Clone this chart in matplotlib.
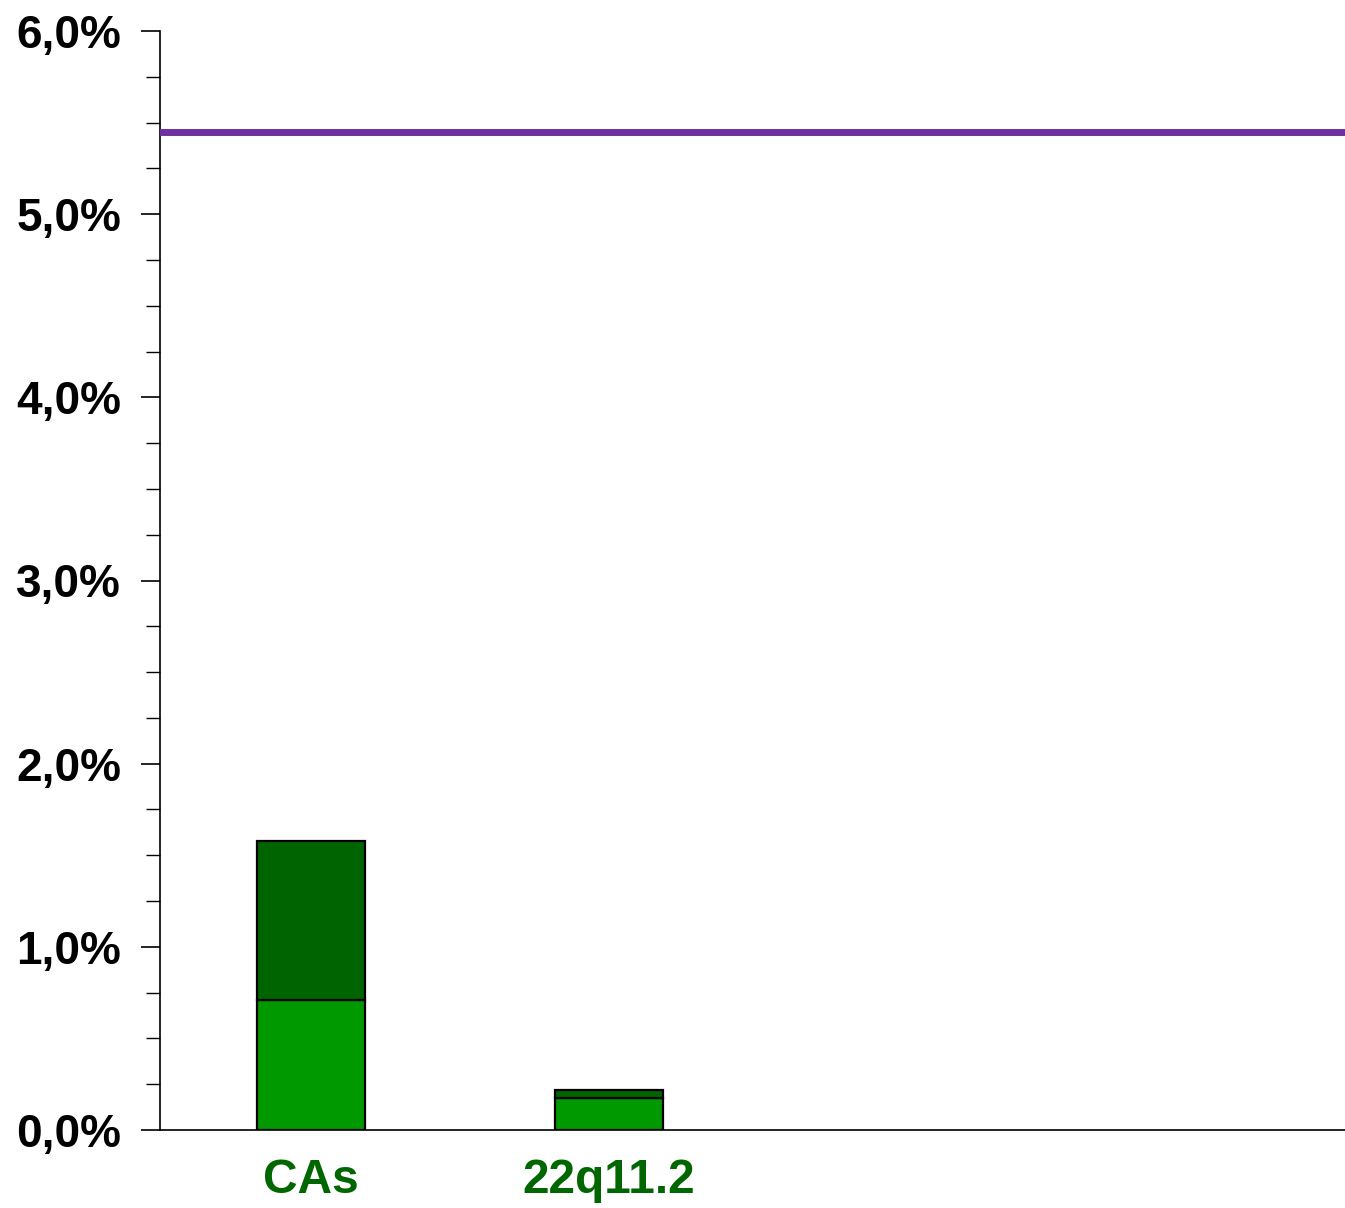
import matplotlib.pyplot as plt
import numpy as np
from matplotlib.ticker import MultipleLocator, FuncFormatter

categories = ['CAs', '22q11.2']
lower = [0.71, 0.175]    # light green part (%)
upper = [0.87, 0.045]    # dark green part stacked on top (%)
reference_line = 5.45    # purple horizontal line (%)

plt.rcParams['font.family'] = ['Liberation Sans', 'DejaVu Sans']
plt.rcParams['font.weight'] = 'bold'

fig = plt.figure(figsize=(13.45, 12.08), dpi=100)
ax = fig.add_axes([160 / 1345, 1 - 1130 / 1208, 1 - 160 / 1345, (1130 - 31) / 1208])

x = np.arange(len(categories))
w = 0.362
ax.bar(x, lower, width=w, color='#009900', edgecolor='black', linewidth=1.6, zorder=2)
ax.bar(x, upper, width=w, bottom=lower, color='#006400', edgecolor='black', linewidth=1.6, zorder=2)
ax.axhline(reference_line, color='#7030A0', linewidth=5, zorder=3)

# room for four category slots, only the first two are filled
ax.set_xlim(-0.507, 3.47)
ax.set_ylim(0, 6)
ax.yaxis.set_major_locator(MultipleLocator(1))
ax.yaxis.set_minor_locator(MultipleLocator(0.25))
ax.yaxis.set_major_formatter(FuncFormatter(lambda v, p: f'{v:.1f}%'.replace('.', ',')))
ax.tick_params(axis='y', which='major', length=14, width=1.2, labelsize=33, pad=14)
ax.tick_params(axis='y', which='minor', length=10, width=1)

ax.set_xticks(x)
ax.set_xticklabels(categories, fontsize=34.5, color='#006600', fontweight='bold')
ax.tick_params(axis='x', length=0, pad=20)

for s in ['top', 'right']:
    ax.spines[s].set_visible(False)
ax.spines['left'].set_linewidth(1.2)
ax.spines['bottom'].set_linewidth(1.2)

fig.savefig('out.png', dpi=100)
